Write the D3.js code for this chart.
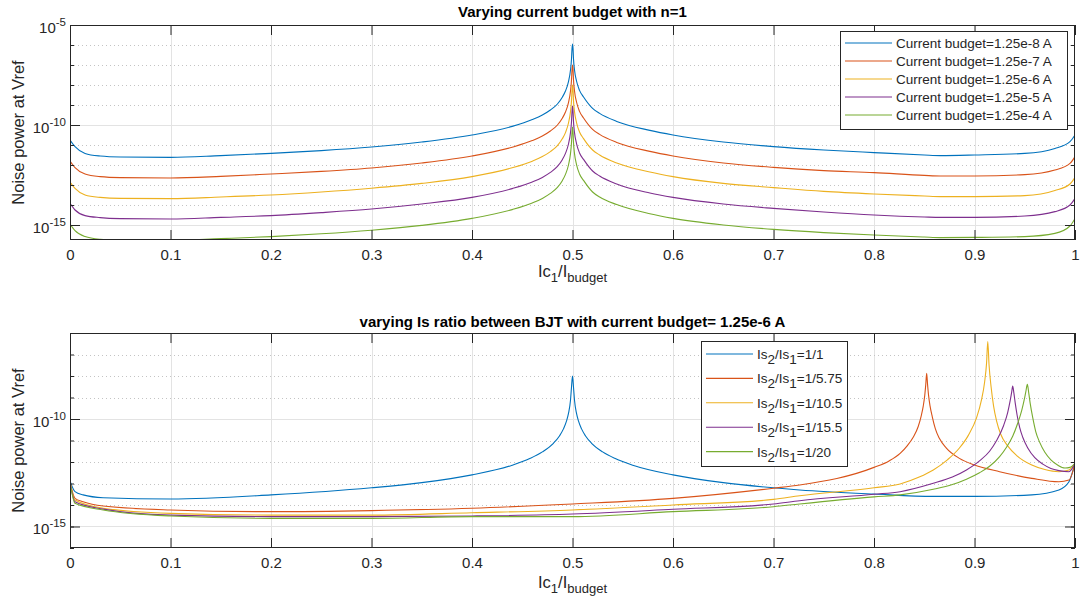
<!DOCTYPE html>
<html><head><meta charset="utf-8">
<script src="https://cdn.jsdelivr.net/npm/d3@7/dist/d3.min.js"></script>
<style>
body{margin:0;background:#fff;}
svg{display:block;font-family:"Liberation Sans",Arial,sans-serif;}
</style></head>
<body>
<svg id="chart" width="1081" height="606"></svg>
<script>
// ---------------- DATA ----------------
const xTickValues = [0,0.1,0.2,0.3,0.4,0.5,0.6,0.7,0.8,0.9,1];
const xTickLabels = ['0','0.1','0.2','0.3','0.4','0.5','0.6','0.7','0.8','0.9','1'];
const colors = ['#0072BD','#D95319','#EDB120','#7E2F8E','#77AC30'];

// Top panel: log10(noise power) vs Ic1/Ibudget
const topTitle = 'Varying current budget with n=1';
const budgetLabels = ['Current budget=1.25e-8 A','Current budget=1.25e-7 A','Current budget=1.25e-6 A','Current budget=1.25e-5 A','Current budget=1.25e-4 A'];
const topYMajor = [-5,-10,-15];
const topX = [0,0.005,0.015,0.03,0.05,0.1,0.15,0.2,0.25,0.3,0.35,0.4,0.44,0.46,0.47,0.478,0.485,0.49,0.493,0.496,0.498,0.499,0.4995,0.5,0.5005,0.501,0.502,0.504,0.507,0.511,0.52,0.527,0.544,0.577,0.6,0.65,0.7,0.75,0.8,0.85,0.866,0.9,0.95,0.98,0.995,1];
const budget8 = [-10.75,-11.08,-11.42,-11.55,-11.6,-11.62,-11.53,-11.42,-11.28,-11.1,-10.85,-10.5,-10.07,-9.73,-9.5,-9.25,-8.95,-8.6,-8.3,-7.83,-7.25,-6.7,-6.2,-5.95,-6.2,-6.7,-7.25,-7.8,-8.27,-8.6,-9.17,-9.42,-9.82,-10.27,-10.5,-10.85,-11.08,-11.25,-11.38,-11.5,-11.53,-11.5,-11.42,-11.17,-10.83,-10.5];
const budget7 = [-11.8,-12.13,-12.45,-12.58,-12.63,-12.65,-12.57,-12.45,-12.32,-12.15,-11.9,-11.55,-11.11,-10.78,-10.55,-10.3,-10.0,-9.65,-9.35,-8.88,-8.3,-7.75,-7.25,-7.0,-7.25,-7.75,-8.3,-8.85,-9.32,-9.65,-10.22,-10.47,-10.87,-11.32,-11.55,-11.9,-12.12,-12.28,-12.38,-12.52,-12.55,-12.55,-12.48,-12.25,-11.92,-11.58];
const budget6 = [-12.85,-13.17,-13.5,-13.62,-13.67,-13.68,-13.6,-13.5,-13.35,-13.16,-12.92,-12.58,-12.14,-11.81,-11.58,-11.33,-11.03,-10.68,-10.38,-9.9,-9.33,-8.78,-8.28,-8.0,-8.28,-8.78,-9.33,-9.88,-10.35,-10.68,-11.25,-11.5,-11.9,-12.35,-12.58,-12.92,-13.13,-13.32,-13.45,-13.55,-13.58,-13.58,-13.53,-13.28,-12.95,-12.62];
const budget5 = [-13.92,-14.25,-14.53,-14.63,-14.68,-14.7,-14.62,-14.53,-14.38,-14.2,-13.95,-13.62,-13.18,-12.85,-12.62,-12.37,-12.07,-11.72,-11.42,-10.95,-10.38,-9.83,-9.33,-9.05,-9.33,-9.83,-10.38,-10.93,-11.4,-11.72,-12.3,-12.55,-12.95,-13.4,-13.62,-13.95,-14.17,-14.35,-14.5,-14.6,-14.62,-14.62,-14.55,-14.33,-14.0,-13.67];
const budget4 = [-14.95,-15.28,-15.58,-15.72,-15.77,-15.77,-15.68,-15.58,-15.44,-15.26,-15.02,-14.67,-14.23,-13.9,-13.67,-13.42,-13.12,-12.77,-12.47,-12.0,-11.43,-10.88,-10.38,-10.1,-10.38,-10.88,-11.43,-11.98,-12.45,-12.77,-13.35,-13.6,-13.98,-14.44,-14.67,-15.0,-15.22,-15.38,-15.5,-15.6,-15.63,-15.62,-15.58,-15.42,-15.05,-14.67];

// Bottom panel
const bottomTitle = 'varying Is ratio between BJT with current budget= 1.25e-6 A';
const ratioLabels = ['1/1','1/5.75','1/10.5','1/15.5','1/20'];
const bottomYMajor = [-10,-15];
const ratio1X = [0,0.005,0.013,0.033,0.1,0.2,0.3,0.35,0.4,0.44,0.458,0.47,0.481,0.487,0.491,0.494,0.496,0.498,0.499,0.5,0.501,0.502,0.504,0.506,0.509,0.513,0.519,0.53,0.542,0.56,0.6,0.65,0.7,0.726,0.8,0.859,0.9,0.957,0.984,0.994,1];
const ratio1Y = [-12.88,-13.38,-13.53,-13.66,-13.72,-13.53,-13.2,-12.96,-12.6,-12.15,-11.83,-11.53,-11.13,-10.79,-10.46,-10.1,-9.74,-9.13,-8.52,-8.0,-8.52,-9.13,-9.74,-10.1,-10.46,-10.79,-11.13,-11.53,-11.83,-12.15,-12.6,-12.96,-13.2,-13.3,-13.49,-13.6,-13.6,-13.53,-13.3,-12.92,-12.05];
const ratio2X = [0,0.005,0.013,0.033,0.1,0.2,0.3,0.4,0.5,0.6,0.7,0.726,0.8,0.815,0.826,0.833,0.839,0.844,0.847,0.849,0.8505,0.8515,0.8524,0.8533,0.8543,0.8558,0.858,0.861,0.865,0.872,0.885,0.9,0.925,0.957,0.984,0.994,1];
const ratio2Y = [-12.92,-13.69,-13.85,-14.05,-14.23,-14.31,-14.26,-14.15,-13.95,-13.69,-13.22,-13.07,-12.25,-11.95,-11.6,-11.25,-10.85,-10.35,-9.85,-9.4,-8.9,-8.4,-7.88,-8.4,-8.9,-9.4,-9.9,-10.45,-10.9,-11.35,-11.83,-12.14,-12.45,-12.76,-12.92,-12.84,-12.06];
const ratio3X = [0,0.005,0.033,0.1,0.2,0.3,0.4,0.5,0.6,0.7,0.726,0.8,0.826,0.845,0.859,0.873,0.885,0.894,0.902,0.907,0.91,0.912,0.9132,0.9145,0.9165,0.919,0.922,0.926,0.933,0.942,0.957,0.97,0.984,0.994,1];
const ratio3Y = [-12.92,-13.77,-14.15,-14.39,-14.47,-14.47,-14.36,-14.23,-14.0,-13.74,-13.57,-13.2,-13.02,-12.7,-12.37,-11.9,-11.35,-10.75,-9.95,-9.1,-8.3,-7.4,-6.4,-7.5,-8.5,-9.4,-10.1,-10.7,-11.25,-11.7,-12.14,-12.35,-12.45,-12.37,-12.06];
const ratio4X = [0,0.005,0.033,0.1,0.2,0.3,0.4,0.5,0.6,0.7,0.726,0.8,0.826,0.859,0.878,0.892,0.905,0.915,0.922,0.929,0.933,0.9355,0.937,0.938,0.9392,0.9405,0.9425,0.945,0.948,0.953,0.96,0.968,0.976,0.984,0.994,1];
const ratio4Y = [-12.92,-13.85,-14.19,-14.47,-14.54,-14.54,-14.51,-14.42,-14.2,-13.95,-13.8,-13.5,-13.38,-12.99,-12.7,-12.37,-11.95,-11.5,-11.0,-10.3,-9.7,-9.15,-8.75,-8.47,-8.8,-9.25,-9.85,-10.4,-10.85,-11.35,-11.8,-12.1,-12.3,-12.4,-12.45,-12.06];
const ratio5X = [0,0.005,0.033,0.1,0.2,0.3,0.4,0.5,0.6,0.7,0.726,0.8,0.826,0.859,0.878,0.892,0.905,0.915,0.925,0.932,0.938,0.943,0.947,0.9495,0.951,0.9526,0.954,0.9555,0.958,0.961,0.965,0.97,0.976,0.983,0.99,0.995,1];
const ratio5Y = [-12.92,-13.92,-14.23,-14.51,-14.62,-14.62,-14.54,-14.54,-14.31,-14.08,-13.95,-13.62,-13.53,-13.27,-13.05,-12.8,-12.5,-12.2,-11.75,-11.3,-10.8,-10.2,-9.6,-9.1,-8.75,-8.39,-8.8,-9.3,-9.95,-10.6,-11.1,-11.55,-11.9,-12.15,-12.28,-12.25,-12.06];

// ---------------- DRAW ----------------
const svg = d3.select('#chart');
const FONT_TICK = 15, C_AX = '#262626';

function panel(cfg){
  const L=70, R=1075, T=cfg.top, B=cfg.bottom;
  const x = d3.scaleLinear().domain([0,1]).range([L,R]);
  const y = d3.scaleLog().domain([Math.pow(10,cfg.yMin), Math.pow(10,cfg.yMax)]).range([B,T]);
  const g = svg.append('g');
  const id = 'clip'+cfg.key;
  svg.append('defs').append('clipPath').attr('id',id).append('rect')
    .attr('x',L).attr('y',T).attr('width',R-L).attr('height',B-T);

  // x grid
  g.selectAll('.xg').data(xTickValues.slice(1,-1)).enter().append('line')
    .attr('x1',d=>Math.round(x(d))+0.5).attr('x2',d=>Math.round(x(d))+0.5).attr('y1',T).attr('y2',B)
    .attr('stroke','#e3e3e3').attr('stroke-width',1);
  // y grid: each decade
  const decades = d3.range(Math.ceil(cfg.yMin), Math.floor(cfg.yMax)+1);
  decades.forEach(e=>{
    const yy = Math.round(y(Math.pow(10,e)))+0.5;
    if (yy<=T+1 || yy>=B-1) return;
    const major = cfg.yMajor.includes(e);
    g.append('line').attr('x1',L).attr('x2',R).attr('y1',yy).attr('y2',yy)
      .attr('stroke', major ? '#e3e3e3' : '#c4c4c4')
      .attr('stroke-width',1)
      .attr('stroke-dasharray', major ? null : '1,3');
  });

  // curves
  const line = d3.line().x(d=>x(d[0])).y(d=>y(Math.pow(10,d[1]))).curve(d3.curveMonotoneX);
  const cg = g.append('g').attr('clip-path','url(#'+id+')');
  cfg.series.forEach((s,i)=>{
    const pts = s.x.map((xv,j)=>[xv,s.y[j]]);
    cg.append('path').attr('d',line(pts)).attr('fill','none')
      .attr('stroke',colors[i]).attr('stroke-width',1.1);
  });

  // axes with d3
  const majVals = cfg.yMajor.map(e=>Math.pow(10,e)).filter(v=>v>=y.domain()[0]&&v<=y.domain()[1]);
  const xAxisB = d3.axisBottom(x).tickValues(xTickValues).tickFormat((d,i)=>xTickLabels[i]).tickSizeInner(-10).tickSizeOuter(0).tickPadding(9);
  const ax = g.append('g').attr('transform',`translate(0,${B})`).call(xAxisB);
  g.append('g').attr('transform',`translate(0,${T})`).call(d3.axisTop(x).tickValues(xTickValues).tickFormat('').tickSizeInner(-10).tickSizeOuter(0));
  g.append('g').attr('transform',`translate(${L},0)`).call(d3.axisLeft(y).tickValues(decades.map(e=>Math.pow(10,e))).tickFormat('').tickSizeInner(-4).tickSizeOuter(0));
  g.append('g').attr('transform',`translate(${R},0)`).call(d3.axisRight(y).tickValues(decades.map(e=>Math.pow(10,e))).tickFormat('').tickSizeInner(-4).tickSizeOuter(0));
  g.append('g').attr('transform',`translate(${L},0)`).call(d3.axisLeft(y).tickValues(majVals).tickFormat('').tickSizeInner(-10).tickSizeOuter(0));
  g.append('g').attr('transform',`translate(${R},0)`).call(d3.axisRight(y).tickValues(majVals).tickFormat('').tickSizeInner(-10).tickSizeOuter(0));
  g.selectAll('.domain').remove();
  g.selectAll('.tick line').attr('stroke',C_AX).attr('stroke-width',1);
  ax.selectAll('text').attr('fill',C_AX).attr('font-size',FONT_TICK).attr('font-family','"Liberation Sans",Arial,sans-serif');

  // y tick labels with superscript
  majVals.forEach(v=>{
    const e = Math.round(Math.log10(v));
    const yy = y(v);
    const t = g.append('text').attr('x',L-4).attr('y',yy+7.5).attr('text-anchor','end')
      .attr('fill',C_AX).attr('font-size',FONT_TICK);
    t.append('tspan').text('10');
    t.append('tspan').attr('dy',-7).attr('font-size',11.5).text(String(e));
  });

  // box
  g.append('rect').attr('x',L+0.5).attr('y',T+0.5).attr('width',R-L-1).attr('height',B-T-1)
    .attr('fill','none').attr('stroke',C_AX).attr('stroke-width',1);

  // title
  g.append('text').attr('x',(L+R)/2).attr('y',cfg.titleY).attr('text-anchor','middle')
    .attr('font-weight','bold').attr('font-size',15).attr('fill','#000').text(cfg.title);
  // x label
  const xl = g.append('text').attr('x',(L+R)/2).attr('y',cfg.xlabelY).attr('text-anchor','middle')
    .attr('font-size',16.5).attr('fill',C_AX);
  xl.append('tspan').text('Ic');
  xl.append('tspan').attr('dy',5).attr('font-size',13).text('1');
  xl.append('tspan').attr('dy',-5).text('/I');
  xl.append('tspan').attr('dy',5).attr('font-size',13).text('budget');
  // y label
  g.append('text').attr('transform',`translate(24,${(T+B)/2}) rotate(-90)`).attr('text-anchor','middle')
    .attr('font-size',16.5).attr('fill',C_AX).text('Noise power at Vref');

  // legend
  const lg = cfg.legend;
  g.append('rect').attr('x',lg.x+0.5).attr('y',lg.y+0.5).attr('width',lg.w).attr('height',lg.h)
    .attr('fill','#fff').attr('stroke',C_AX).attr('stroke-width',1);
  cfg.series.forEach((s,i)=>{
    const yy = lg.y + lg.first + i*lg.step;
    g.append('line').attr('x1',lg.x+5).attr('x2',lg.x+52).attr('y1',yy).attr('y2',yy)
      .attr('stroke',colors[i]).attr('stroke-width',1.1);
    const t = g.append('text').attr('x',lg.x+56).attr('y',yy+5).attr('font-size',13.5).attr('fill',C_AX);
    lg.label(t,i);
  });
}

panel({
  key:'top', top:25, bottom:240, yMin:-15.75, yMax:-5, yMajor:topYMajor,
  title:topTitle, titleY:17, xlabelY:277,
  series:[budget8,budget7,budget6,budget5,budget4].map(v=>({x:topX,y:v})),
  legend:{x:840,y:31,w:227,h:98,first:12,step:18,label:(t,i)=>t.text(budgetLabels[i])}
});
panel({
  key:'bot', top:333, bottom:548, yMin:-16, yMax:-6, yMajor:bottomYMajor,
  title:bottomTitle, titleY:327, xlabelY:588,
  series:[[ratio1X,ratio1Y],[ratio2X,ratio2Y],[ratio3X,ratio3Y],[ratio4X,ratio4Y],[ratio5X,ratio5Y]].map(a=>({x:a[0],y:a[1]})),
  legend:{x:701,y:341,w:146,h:125,first:13,step:24.4,label:(t,i)=>{
    t.append('tspan').text('Is');
    t.append('tspan').attr('dy',5).text('2');
    t.append('tspan').attr('dy',-5).text('/Is');
    t.append('tspan').attr('dy',5).text('1');
    t.append('tspan').attr('dy',-5).text('='+ratioLabels[i]);
  }}
});
</script>
</body></html>
